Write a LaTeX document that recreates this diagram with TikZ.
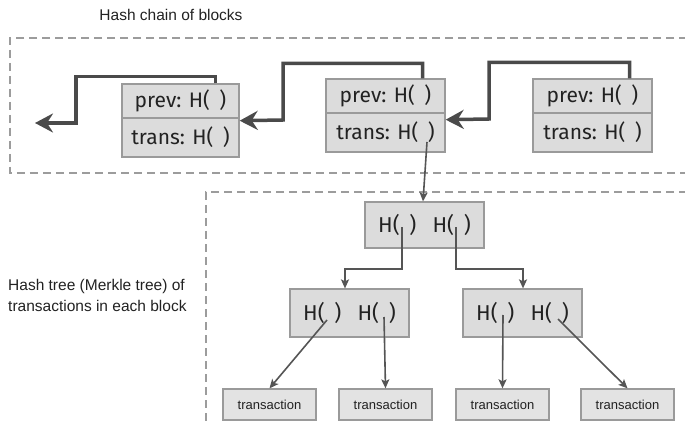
\documentclass[tikz,border=0pt]{standalone}
\usepackage{fontspec}
\setmainfont{Liberation Sans}
\newfontfamily\blockfont{Fira Sans}
\usetikzlibrary{arrows.meta}
\definecolor{boxfill}{HTML}{DCDCDC}
\definecolor{boxline}{HTML}{9A9A9A}
\definecolor{chaincol}{HTML}{4A4A4A}
\definecolor{treecol}{HTML}{555555}
\definecolor{dashcol}{HTML}{9C9C9C}
\definecolor{txtcol}{HTML}{222222}
\tikzset{
  rowbox/.style={draw=boxline, fill=boxfill, line width=1.4pt, minimum width=117pt, inner sep=0pt, font=\blockfont\fontsize{21}{24}\selectfont, text=txtcol},
  hashbox/.style={draw=boxline, fill=boxfill, line width=1.2pt, minimum width=119pt, inner sep=0pt, font=\blockfont\fontsize{21.5}{24}\selectfont, text=txtcol},
  txbox/.style={draw=boxline, fill=boxfill!80!white, line width=1.3pt, minimum width=93pt, minimum height=31pt, inner sep=0pt, font=\fontsize{13}{15}\selectfont, text=txtcol},
  chainarrow/.style={draw=chaincol, line width=3.5pt, -{Stealth[length=18pt,width=19pt,inset=6pt]}},
  treearrow/.style={draw=treecol, line width=1.6pt, -{Stealth[length=9pt,width=8pt,inset=2pt]}},
  region/.style={draw=dashcol, line width=1.3pt, dash pattern=on 8pt off 5pt},
  label/.style={font=\fontsize{15.5}{21}\selectfont, text=txtcol, inner sep=0pt}
}
\begin{document}
\begin{tikzpicture}[x=1pt,y=-1pt]
\useasboundingbox (0,0) rectangle (685,422);
\fill[white] (0,0) rectangle (685,422);
\clip (0,0) rectangle (685,422);

% regions
\draw[region] (700,38) -- (10,38) -- (10,173) -- (700,173);
\draw[region] (700,192) -- (206,192) -- (206,440);

\node[label] (title) at (171,15) {Hash chain of blocks};
\node[label, align=left, anchor=west] (treelabel) at (8,295) {Hash tree (Merkle tree) of\\transactions in each block};

% blocks
\node[rowbox, minimum height=34pt] (b1p) at (180.5,101) {prev: H(\hspace{0.45em})};
\node[rowbox, minimum height=39pt] (b1t) at (180.5,137.5) {trans: H(\hspace{0.45em})};
\node[rowbox, minimum height=34pt, minimum width=119pt] (b2p) at (385.5,96) {prev: H(\hspace{0.45em})};
\node[rowbox, minimum height=39pt, minimum width=119pt] (b2t) at (385.5,132.5) {trans: H(\hspace{0.45em})};
\node[rowbox, minimum height=34pt, minimum width=119pt] (b3p) at (592.5,96) {prev: H(\hspace{0.45em})};
\node[rowbox, minimum height=39pt, minimum width=119pt] (b3t) at (592.5,132.5) {trans: H(\hspace{0.45em})};

\coordinate (end1) at (35,123);

% chain arrows
\draw[chainarrow] ([xshift=-23pt]b3p.north east) -- ++(0,-16) -| (489,119) -- ([yshift=-6pt]b2p.south east);
\draw[chainarrow] ([xshift=-23pt]b2p.north east) -- ++(0,-15) -| (283,120) -- ([yshift=-2pt]b1p.south east);
\draw[chainarrow] ([xshift=-24pt]b1p.north east) -- ++(0,-7) -| (76,123) -- (end1);

% tree
\node[hashbox, minimum height=46pt] (root) at (424.5,225) {H(\hspace{0.45em})\hspace{0.75em}H(\hspace{0.45em})};
\node[hashbox, minimum height=48pt] (ml) at (349.5,313) {H(\hspace{0.45em})\hspace{0.75em}H(\hspace{0.45em})};
\node[hashbox, minimum height=48pt] (mr) at (522.5,313) {H(\hspace{0.45em})\hspace{0.75em}H(\hspace{0.45em})};

\node[txbox] (t1) at (269.5,404.5) {transaction};
\node[txbox] (t2) at (385.5,404.5) {transaction};
\node[txbox] (t3) at (502.5,404.5) {transaction};
\node[txbox] (t4) at (627.5,404.5) {transaction};

\coordinate (b2h) at (427,142);
\coordinate (r1) at (402,227);
\coordinate (r2) at (456,227);
\coordinate (m1) at (327,320);
\coordinate (m2) at (384,317);
\coordinate (m3) at (503,315);
\coordinate (m4) at (558,319);

\draw[treearrow] (b2h) -- ([xshift=-1.5pt]root.north);
\draw[treearrow] (r1) -- ++(0,42) -| ([xshift=-4.5pt]ml.north);
\draw[treearrow] (r2) -- ++(0,42) -| ([xshift=0.5pt]mr.north);
\draw[treearrow] (m1) -- (t1.north);
\draw[treearrow] (m2) -- (t2.north);
\draw[treearrow] (m3) -- (t3.north);
\draw[treearrow] (m4) -- (t4.north);
\end{tikzpicture}
\end{document}
